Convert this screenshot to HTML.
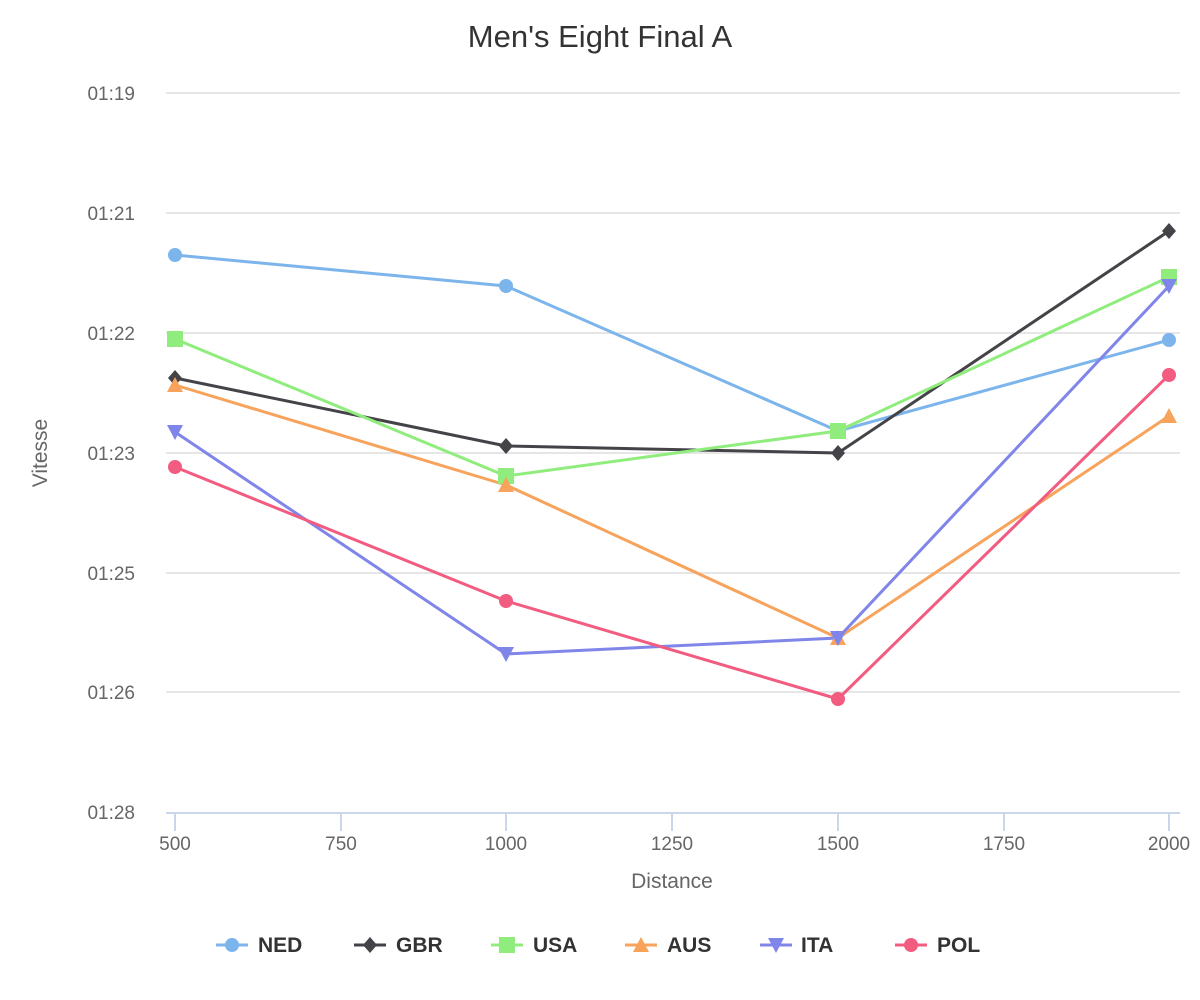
<!DOCTYPE html>
<html><head><meta charset="utf-8"><style>
html,body{margin:0;padding:0;background:#fff;}
svg{display:block;font-family:"Liberation Sans","DejaVu Sans",sans-serif;}
</style></head><body>
<svg width="1200" height="1000" viewBox="0 0 1200 1000" xmlns="http://www.w3.org/2000/svg">
<rect width="1200" height="1000" fill="#fff"/>
<text x="600" y="47" text-anchor="middle" font-size="31" fill="#333">Men's Eight Final A</text>
<g stroke="#e6e6e6" stroke-width="2">
<line x1="166" y1="93" x2="1180" y2="93"/>
<line x1="166" y1="213" x2="1180" y2="213"/>
<line x1="166" y1="333" x2="1180" y2="333"/>
<line x1="166" y1="453" x2="1180" y2="453"/>
<line x1="166" y1="573" x2="1180" y2="573"/>
<line x1="166" y1="692" x2="1180" y2="692"/>
</g>
<g stroke="#ccd6eb" stroke-width="2">
<line x1="166" y1="813" x2="1180" y2="813"/>
<line x1="175" y1="813" x2="175" y2="831"/>
<line x1="341" y1="813" x2="341" y2="831"/>
<line x1="506" y1="813" x2="506" y2="831"/>
<line x1="672" y1="813" x2="672" y2="831"/>
<line x1="838" y1="813" x2="838" y2="831"/>
<line x1="1004" y1="813" x2="1004" y2="831"/>
<line x1="1169" y1="813" x2="1169" y2="831"/>
</g>
<g font-size="19" fill="#666" text-anchor="end">
<text x="135" y="100">01:19</text>
<text x="135" y="220">01:21</text>
<text x="135" y="340">01:22</text>
<text x="135" y="460">01:23</text>
<text x="135" y="580">01:25</text>
<text x="135" y="699">01:26</text>
<text x="135" y="819">01:28</text>
</g>
<g font-size="19" fill="#666" text-anchor="middle">
<text x="175" y="850">500</text>
<text x="341" y="850">750</text>
<text x="506" y="850">1000</text>
<text x="672" y="850">1250</text>
<text x="838" y="850">1500</text>
<text x="1004" y="850">1750</text>
<text x="1169" y="850">2000</text>
<text x="672" y="888" font-size="21">Distance</text>
<text transform="translate(47,453) rotate(-90)" font-size="21">Vitesse</text>
</g>
<g fill="none" stroke-width="3" stroke-linejoin="round">
<polyline stroke="#7cb5ec" points="175,255 506,286 838,431 1169,340"/>
<polyline stroke="#434348" points="175,378 506,446 838,453 1169,231"/>
<polyline stroke="#90ed7d" points="175,339 506,476 838,431 1169,277"/>
<polyline stroke="#f7a35c" points="175,385 506,485 838,638 1169,416"/>
<polyline stroke="#8085e9" points="175,432 506,654 838,638 1169,286"/>
<polyline stroke="#f15c80" points="175,467 506,601 838,699 1169,375"/>
</g>
<g fill="#7cb5ec"><circle cx="175" cy="255" r="7"/><circle cx="506" cy="286" r="7"/><circle cx="838" cy="431" r="7"/><circle cx="1169" cy="340" r="7"/></g>
<g fill="#434348"><path d="M175 370l7 8-7 8-7-8z"/><path d="M506 438l7 8-7 8-7-8z"/><path d="M838 445l7 8-7 8-7-8z"/><path d="M1169 223l7 8-7 8-7-8z"/></g>
<g fill="#90ed7d"><rect x="167" y="331" width="16" height="16"/><rect x="498" y="468" width="16" height="16"/><rect x="830" y="423" width="16" height="16"/><rect x="1161" y="269" width="16" height="16"/></g>
<g fill="#f7a35c"><path d="M175 377l8 15h-16z"/><path d="M506 477l8 15h-16z"/><path d="M838 630l8 15h-16z"/><path d="M1169 408l8 15h-16z"/></g>
<g fill="#8085e9"><path d="M175 440l8-15h-16z"/><path d="M506 662l8-15h-16z"/><path d="M838 646l8-15h-16z"/><path d="M1169 294l8-15h-16z"/></g>
<g fill="#f15c80"><circle cx="175" cy="467" r="7"/><circle cx="506" cy="601" r="7"/><circle cx="838" cy="699" r="7"/><circle cx="1169" cy="375" r="7"/></g>
<g font-size="21" font-weight="bold" fill="#333">
<line x1="216" y1="945" x2="248" y2="945" stroke="#7cb5ec" stroke-width="3"/><circle cx="232" cy="945" r="7" fill="#7cb5ec"/><text x="258" y="952">NED</text>
<line x1="354" y1="945" x2="386" y2="945" stroke="#434348" stroke-width="3"/><path d="M370 937l7 8-7 8-7-8z" fill="#434348"/><text x="396" y="952">GBR</text>
<line x1="491" y1="945" x2="523" y2="945" stroke="#90ed7d" stroke-width="3"/><rect x="499" y="937" width="16" height="16" fill="#90ed7d"/><text x="533" y="952">USA</text>
<line x1="625" y1="945" x2="657" y2="945" stroke="#f7a35c" stroke-width="3"/><path d="M641 937l8 15h-16z" fill="#f7a35c"/><text x="667" y="952">AUS</text>
<line x1="760" y1="945" x2="792" y2="945" stroke="#8085e9" stroke-width="3"/><path d="M776 953l8-15h-16z" fill="#8085e9"/><text x="801" y="952">ITA</text>
<line x1="895" y1="945" x2="927" y2="945" stroke="#f15c80" stroke-width="3"/><circle cx="911" cy="945" r="7" fill="#f15c80"/><text x="937" y="952">POL</text>
</g>
</svg>
</body></html>
